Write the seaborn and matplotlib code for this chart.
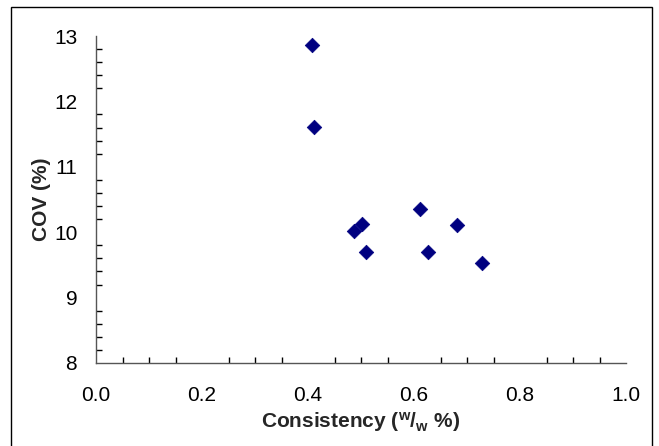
import matplotlib
matplotlib.use("Agg")
import matplotlib.pyplot as plt
import seaborn as sns
import pandas as pd
from matplotlib.ticker import MultipleLocator, FormatStrFormatter
from matplotlib.patches import Rectangle

consistency = [0.407, 0.411, 0.611, 0.501, 0.486, 0.509, 0.626, 0.682, 0.728]
cov = [12.87, 11.61, 10.36, 10.12, 10.02, 9.69, 9.69, 10.11, 9.53]

df = pd.DataFrame({"Consistency": consistency, "COV": cov})

sns.set_style("white")
plt.rcParams["font.family"] = ["Liberation Sans", "DejaVu Sans"]
plt.rcParams["mathtext.fontset"] = "custom"
plt.rcParams["mathtext.rm"] = "Liberation Sans:bold"
plt.rcParams["mathtext.it"] = "Liberation Sans:bold"

fig = plt.figure(figsize=(6.59, 4.46), dpi=100)
ax = fig.add_axes([96/659, 1-363/446, (626-96)/659, (363-36)/446])

sns.scatterplot(data=df, x="Consistency", y="COV", marker="D", s=55,
                color="#000080", edgecolor="#000080", linewidth=0.5, ax=ax, zorder=3)

ax.set_xlim(0, 1.0)
ax.set_ylim(8, 13)
ax.xaxis.set_major_locator(MultipleLocator(0.2))
ax.xaxis.set_minor_locator(MultipleLocator(0.05))
ax.yaxis.set_major_locator(MultipleLocator(1))
ax.yaxis.set_minor_locator(MultipleLocator(0.2))
ax.xaxis.set_major_formatter(FormatStrFormatter("%.1f"))
ax.yaxis.set_major_formatter(FormatStrFormatter("%d"))

for s in ["top", "right"]:
    ax.spines[s].set_visible(False)
for s in ["left", "bottom"]:
    ax.spines[s].set_color("#555555")
    ax.spines[s].set_linewidth(1.0)

ax.tick_params(axis="both", which="major", direction="inout", length=9, width=1,
               color="black", labelsize=15, labelcolor="black")
ax.tick_params(axis="both", which="minor", direction="in", length=4, width=1,
               color="black")
ax.tick_params(axis="y", which="major", pad=9)
ax.tick_params(axis="x", which="major", pad=12)
ax.tick_params(axis="x", which="minor", top=False, bottom=True)
ax.tick_params(axis="y", which="minor", left=True, right=False)

ax.set_xlabel(r"Consistency ($^{\mathrm{w}}$/$_{\mathrm{w}}$ %)", fontsize=15,
              fontweight="bold", labelpad=4)
ax.set_ylabel("COV (%)", fontsize=15, fontweight="bold", labelpad=2)

fig.patches.append(Rectangle((11/659, -0.05), (652-11)/659, 1.05 - 7/446,
                             transform=fig.transFigure, fill=False,
                             edgecolor="black", linewidth=1.0, figure=fig))

fig.savefig("out.png", dpi=100)
